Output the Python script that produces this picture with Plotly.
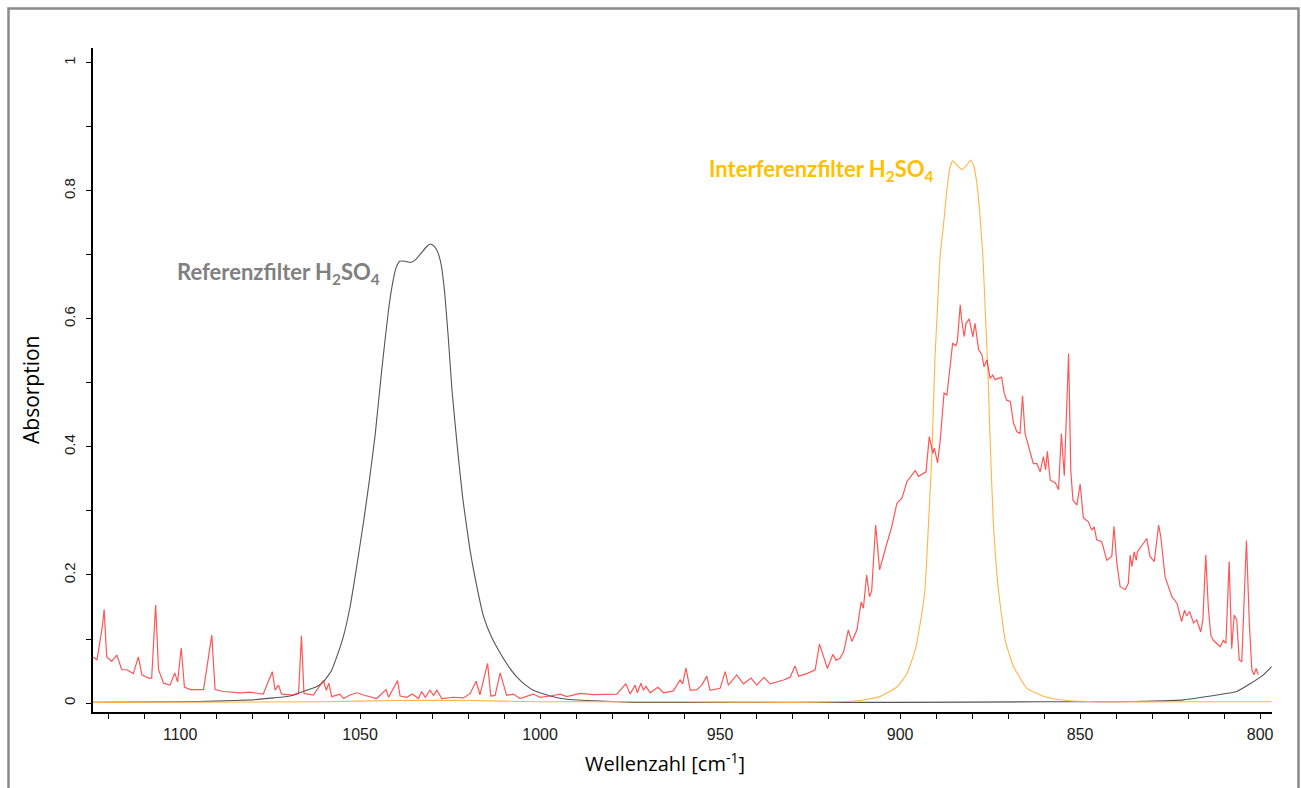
import plotly.graph_objects as go

# ---------------- data ----------------
red_wn = [1124.1, 1123.1, 1121.6, 1121.1, 1120.4, 1119.0, 1117.6, 1116.2, 1114.8, 1113.0,
          1111.6, 1110.6, 1108.8, 1107.9, 1106.8, 1106.0, 1104.6, 1102.8, 1101.5, 1100.7,
          1099.7, 1098.8, 1097.2, 1093.5, 1091.2, 1090.3, 1088.0, 1083.3, 1080.6, 1076.9,
          1074.4, 1073.6, 1072.7, 1071.8, 1068.5, 1067.1, 1066.3, 1065.6, 1063.0, 1060.2,
          1059.4, 1058.7, 1057.9, 1055.6, 1054.6, 1052.8, 1050.9, 1049.1, 1045.4, 1042.8,
          1042.1, 1039.6, 1038.9, 1037.0, 1035.5, 1033.8, 1032.9, 1031.9, 1030.6, 1029.6,
          1028.7, 1027.3, 1024.1, 1021.3, 1019.4, 1017.8, 1016.7, 1014.6, 1013.7, 1012.5,
          1011.1, 1009.3, 1007.4, 1005.6, 1001.9, 1000.0, 997.2, 994.4, 992.6, 988.9,
          985.2, 981.5, 978.7, 976.2, 975.0, 973.6, 973.0, 972.0, 971.3, 970.6,
          969.4, 967.3, 965.7, 963.0, 961.1, 960.4, 959.5, 958.3, 956.5, 955.1,
          953.7, 952.8, 950.0, 948.6, 947.7, 945.4, 943.5, 941.4, 939.8, 937.8,
          936.1, 932.4, 930.6, 929.2, 928.2, 925.9, 923.6, 922.4, 921.4, 920.2,
          918.7, 917.8, 916.7, 915.7, 914.4, 913.4, 912.0, 910.8, 910.2, 909.3,
          908.5, 907.9, 906.8, 905.7, 904.2, 902.3, 900.9, 899.5, 898.1, 896.8,
          895.8, 894.9, 892.8, 891.9, 890.9, 890.5, 889.6, 888.9, 887.8, 887.0,
          886.1, 885.4, 884.5, 884.1, 883.3, 882.9, 882.2, 881.7, 880.8, 880.4,
          879.8, 879.2, 878.2, 877.3, 876.7, 875.9, 875.0, 874.3, 873.6, 871.8,
          871.1, 870.4, 869.4, 868.5, 867.6, 866.7, 866.0, 865.3, 864.1, 863.0,
          862.0, 861.1, 860.2, 859.6, 859.1, 858.3, 856.9, 856.0, 855.2, 854.4,
          853.2, 852.6, 852.0, 850.9, 850.0, 849.1, 847.7, 846.8, 846.1, 845.4,
          844.0, 842.6, 841.2, 840.6, 839.8, 838.9, 837.5, 836.6, 836.1, 835.6,
          835.0, 834.4, 834.1, 831.5, 830.6, 829.4, 828.2, 827.6, 826.4, 824.5,
          823.1, 821.8, 821.0, 820.4, 819.6, 818.5, 817.6, 816.5, 815.9, 815.1,
          814.4, 813.7, 813.0, 811.1, 810.2, 809.5, 808.6, 807.9, 807.2, 806.5,
          805.8, 805.1, 803.8, 803.0, 802.3, 801.7, 801.1, 800.5]
red_abs = [0.072, 0.067, 0.120, 0.146, 0.072, 0.065, 0.075, 0.052, 0.052, 0.046,
           0.072, 0.044, 0.039, 0.039, 0.153, 0.052, 0.031, 0.028, 0.047, 0.033,
           0.086, 0.025, 0.021, 0.021, 0.106, 0.021, 0.018, 0.016, 0.017, 0.014,
           0.049, 0.020, 0.028, 0.014, 0.0125, 0.015, 0.105, 0.015, 0.0125, 0.035,
           0.020, 0.031, 0.010, 0.014, 0.007, 0.0125, 0.016, 0.0125, 0.007, 0.021,
           0.009, 0.035, 0.011, 0.009, 0.014, 0.007, 0.018, 0.009, 0.020, 0.012,
           0.020, 0.007, 0.009, 0.008, 0.015, 0.034, 0.013, 0.062, 0.011, 0.012,
           0.047, 0.012, 0.014, 0.007, 0.014, 0.009, 0.011, 0.014, 0.010, 0.015,
           0.013, 0.013, 0.014, 0.030, 0.014, 0.028, 0.016, 0.031, 0.020, 0.026,
           0.016, 0.0245, 0.016, 0.019, 0.036, 0.030, 0.055, 0.020, 0.021, 0.028,
           0.042, 0.020, 0.023, 0.049, 0.028, 0.044, 0.030, 0.039, 0.028, 0.040,
           0.030, 0.036, 0.040, 0.058, 0.042, 0.046, 0.052, 0.092, 0.075, 0.054,
           0.076, 0.067, 0.070, 0.080, 0.114, 0.096, 0.114, 0.158, 0.148, 0.200,
           0.166, 0.175, 0.278, 0.208, 0.239, 0.276, 0.312, 0.320, 0.346, 0.356,
           0.363, 0.354, 0.361, 0.416, 0.390, 0.398, 0.375, 0.408, 0.484, 0.481,
           0.525, 0.562, 0.558, 0.565, 0.622, 0.598, 0.572, 0.593, 0.600, 0.590,
           0.572, 0.593, 0.552, 0.544, 0.525, 0.536, 0.507, 0.512, 0.505, 0.509,
           0.484, 0.473, 0.471, 0.437, 0.424, 0.421, 0.480, 0.421, 0.395, 0.374,
           0.374, 0.361, 0.385, 0.364, 0.393, 0.348, 0.344, 0.333, 0.421, 0.355,
           0.546, 0.364, 0.317, 0.309, 0.342, 0.289, 0.283, 0.270, 0.275, 0.255,
           0.252, 0.223, 0.229, 0.276, 0.218, 0.182, 0.177, 0.187, 0.231, 0.213,
           0.236, 0.223, 0.236, 0.257, 0.229, 0.221, 0.278, 0.260, 0.197, 0.166,
           0.156, 0.127, 0.145, 0.136, 0.143, 0.125, 0.130, 0.111, 0.130, 0.231,
           0.150, 0.106, 0.098, 0.088, 0.098, 0.093, 0.221, 0.085, 0.1375, 0.130,
           0.067, 0.065, 0.254, 0.125, 0.052, 0.044, 0.054, 0.044]

ref_wn = [1124.2, 1100.0, 1090.0, 1080.0, 1074.0, 1069.4, 1064.8, 1062.0, 1060.2, 1058.0,
          1056.5, 1054.6, 1052.8, 1050.9, 1049.0, 1047.5, 1045.8, 1044.0, 1042.2, 1041.0,
          1040.0, 1039.0, 1037.5, 1036.0, 1034.5, 1033.0, 1031.5, 1030.5, 1029.5, 1028.5,
          1027.5, 1026.5, 1025.5, 1024.5, 1023.0, 1021.5, 1019.5, 1017.5, 1015.7, 1013.5,
          1011.1, 1008.5, 1006.5, 1004.0, 1001.9, 997.2, 992.6, 983.3, 974.1, 950.0,
          900.0, 860.0, 840.0, 830.0, 821.3, 812.0, 806.5, 802.8, 799.1, 796.8]
ref_abs = [0.001, 0.002, 0.003, 0.005, 0.008, 0.011, 0.020, 0.026, 0.033, 0.050,
           0.072, 0.105, 0.150, 0.215, 0.285, 0.345, 0.420, 0.520, 0.610, 0.655,
           0.680, 0.690, 0.690, 0.688, 0.693, 0.703, 0.713, 0.717, 0.714, 0.705,
           0.685, 0.640, 0.570, 0.490, 0.400, 0.320, 0.240, 0.180, 0.135, 0.103,
           0.078, 0.055, 0.041, 0.028, 0.020, 0.011, 0.006, 0.003, 0.001, 0.001,
           0.001, 0.002, 0.002, 0.003, 0.005, 0.0125, 0.018, 0.030, 0.044, 0.057]

int_wn = [1124.2, 1060.0, 1040.0, 1020.0, 1000.0, 960.0, 930.0, 917.6, 911.1, 905.6,
          900.9, 898.1, 895.8, 894.4, 893.1, 892.1, 891.2, 890.3, 889.6, 888.9,
          887.9, 887.0, 886.2, 885.4, 884.5, 882.9, 881.5, 880.4, 879.5, 878.7,
          877.8, 877.0, 876.4, 875.6, 875.0, 874.1, 872.7, 870.8, 868.5, 864.8,
          859.3, 853.7, 845.0, 820.0, 796.8]
int_abs = [0.001, 0.002, 0.004, 0.004, 0.002, 0.002, 0.001, 0.002, 0.004, 0.010,
           0.025, 0.046, 0.083, 0.125, 0.177, 0.281, 0.385, 0.541, 0.620, 0.697,
           0.750, 0.802, 0.835, 0.847, 0.842, 0.833, 0.840, 0.848, 0.838, 0.812,
           0.760, 0.697, 0.619, 0.515, 0.411, 0.281, 0.177, 0.098, 0.057, 0.023,
           0.009, 0.004, 0.002, 0.002, 0.002]

x_range = [1124.2, 796.7]
y_range = [-0.014, 1.023]

# ---------------- figure ----------------
fig = go.Figure()
fig.add_trace(go.Scatter(x=ref_wn, y=ref_abs, mode="lines",
                         line=dict(color="#555555", width=1.1, shape="spline", smoothing=0.4),
                         showlegend=False, hoverinfo="skip"))
fig.add_trace(go.Scatter(x=int_wn, y=int_abs, mode="lines",
                         line=dict(color="#FFB547", width=1.1, shape="spline", smoothing=0.4),
                         showlegend=False, hoverinfo="skip"))
fig.add_trace(go.Scatter(x=red_wn, y=red_abs, mode="lines",
                         line=dict(color="rgba(255,30,30,0.75)", width=1.2),
                         showlegend=False, hoverinfo="skip"))

W, H = 1301, 788
L, R, T, B = 93, 1272, 48, 712

fig.update_layout(
    width=W, height=H,
    margin=dict(l=L, r=W - R, t=T, b=H - B, pad=0),
    paper_bgcolor="white", plot_bgcolor="white",
    xaxis=dict(range=x_range, showgrid=False, zeroline=False,
               showline=True, linecolor="black", linewidth=2,
               ticks="outside", ticklen=5, tickwidth=1, tickcolor="black",
               dtick=50, tick0=800,
               minor=dict(dtick=10, ticks="outside", ticklen=5, tickwidth=1, tickcolor="black"),
               tickfont=dict(family="Liberation Sans, Arial", size=16, color="#1a1a1a"),
               ticklabelstandoff=2),
    yaxis=dict(range=y_range, showgrid=False, zeroline=False,
               showline=True, linecolor="black", linewidth=2,
               ticks="outside", ticklen=5, tickwidth=1, tickcolor="black",
               dtick=0.2, tick0=0, tickangle=-90,
               minor=dict(dtick=0.1, ticks="outside", ticklen=5, tickwidth=1, tickcolor="black"),
               tickfont=dict(family="Liberation Sans, Arial", size=15, color="#1a1a1a"),
               ticklabelstandoff=5),
)

# axis titles as annotations (exact placement)
fig.add_annotation(text="Absorption", xref="paper", yref="paper",
                   x=(31 - L) / (R - L), y=(B - 390) / (B - T), textangle=-90,
                   showarrow=False, xanchor="center", yanchor="middle",
                   font=dict(family="Open Sans", size=21, color="black"))
fig.add_annotation(text="Wellenzahl [cm<sup>-1</sup>]", xref="paper", yref="paper",
                   x=(665 - L) / (R - L), y=(B - 762) / (B - T),
                   showarrow=False, xanchor="center", yanchor="middle",
                   font=dict(family="Open Sans", size=20, color="black"))

# curve labels
fig.add_annotation(text="Referenzfilter H<sub>2</sub>SO<sub>4</sub>", x=1043.9, y=0.672,
                   showarrow=False, xanchor="right", yanchor="middle",
                   font=dict(family="Lato", size=22, color="#808080", weight="bold"))
fig.add_annotation(text="Interferenzfilter H<sub>2</sub>SO<sub>4</sub>", x=890.0, y=0.832,
                   showarrow=False, xanchor="right", yanchor="middle",
                   font=dict(family="Lato", size=22, color="#FFC000", weight="bold"))

# outer gray frame
fig.add_shape(type="rect", xref="paper", yref="paper",
              x0=(8.5 - L) / (R - L), x1=(1298.5 - L) / (R - L),
              y0=(B - 800) / (B - T), y1=(B - 8.5) / (B - T),
              line=dict(color="#8a8a8a", width=2.5), fillcolor="rgba(0,0,0,0)", layer="below")

fig.write_html("out.html")
